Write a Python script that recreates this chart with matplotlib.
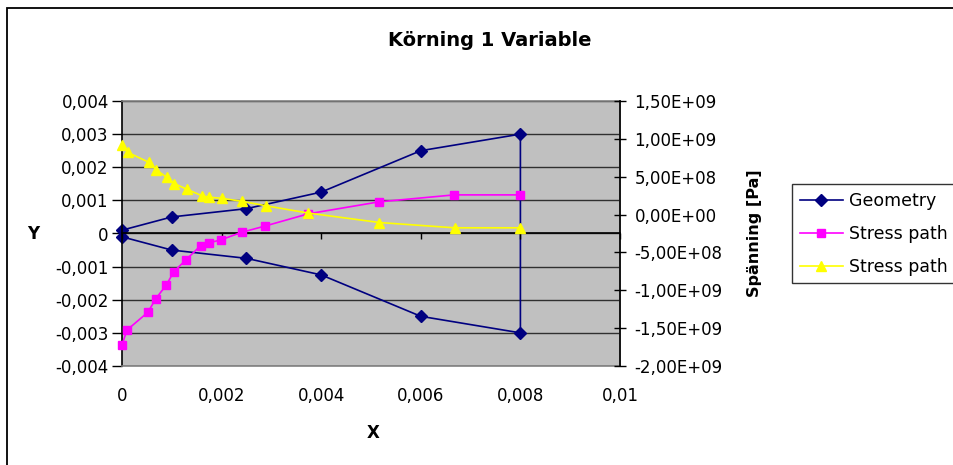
import matplotlib
matplotlib.use("Agg")
import matplotlib.pyplot as plt
from matplotlib.patches import Rectangle
from matplotlib.ticker import FuncFormatter, MultipleLocator, NullLocator

plt.rcParams['font.family'] = ['DejaVu Sans']

# geometry outline (left axis), upper edge then down the end and back along lower edge
geom_x = [0, 0.001, 0.0025, 0.004, 0.006, 0.008, 0.008, 0.006, 0.004, 0.0025, 0.001, 0]
geom_y = [0.0001, 0.0005, 0.00075, 0.00125, 0.0025, 0.003,
          -0.003, -0.0025, -0.00125, -0.00075, -0.0005, -0.0001]

# stress paths (right axis, Pa)
sp1_x = [0, 0.0001, 0.00052, 0.00068, 0.00089, 0.00104, 0.00128, 0.00158,
         0.00174, 0.00198, 0.0024, 0.00288, 0.00374, 0.00516, 0.00667, 0.008]
sp1_y = [-1.72e9, -1.525e9, -1.29e9, -1.11e9, -0.93e9, -0.755e9, -0.6e9, -0.41e9,
         -0.375e9, -0.335e9, -0.235e9, -0.15e9, 0.01e9, 0.168e9, 0.26e9, 0.26e9]

sp2_x = [0, 0.00012, 0.00054, 0.00069, 0.0009, 0.00105, 0.0013, 0.0016,
         0.00174, 0.002, 0.00241, 0.0029, 0.00374, 0.00517, 0.00668, 0.008]
sp2_y = [0.92e9, 0.82e9, 0.69e9, 0.59e9, 0.49e9, 0.41e9, 0.335e9, 0.25e9,
         0.23e9, 0.215e9, 0.175e9, 0.115e9, 0.02e9, -0.105e9, -0.175e9, -0.175e9]

series_names = ["Geometry", "Stress path", "Stress path"]
colors = ["#000080", "#FF00FF", "#FFFF00"]

XLIM = (0, 0.01)
YLIM = (-0.004, 0.004)
Y2LIM = (-2e9, 1.5e9)
FS = 12


def comma_plain(v, pos):
    if abs(v) < 1e-12:
        return "0"
    return f"{round(v, 6):g}".replace(".", ",")


def comma_sci(v, pos):
    if abs(v) < 1:
        v = 0.0
    return f"{v:.2E}".replace(".", ",")


W, H = 954, 465
fig = plt.figure(figsize=(W / 100, H / 100), dpi=100)
rect = [122 / W, (H - 366) / H, (620 - 122) / W, (366 - 101) / H]
ax = fig.add_axes(rect)
ax.set_facecolor("#C0C0C0")

ax.set_xlim(*XLIM)
ax.set_ylim(*YLIM)
ax.xaxis.set_major_locator(MultipleLocator(0.002))
ax.yaxis.set_major_locator(MultipleLocator(0.001))
ax.xaxis.set_major_formatter(FuncFormatter(comma_plain))
ax.yaxis.set_major_formatter(FuncFormatter(comma_plain))
ax.grid(axis="y", color="#303030", lw=1)
ax.set_axisbelow(True)

for side in ("top", "bottom", "right"):
    ax.spines[side].set_color("#808080")
    ax.spines[side].set_linewidth(1.2)
ax.spines["left"].set_color("black")
ax.spines["left"].set_linewidth(1.2)

ax.tick_params(axis="x", length=0, pad=15, labelsize=FS)
ax.tick_params(axis="y", direction="out", length=7, width=1, pad=2.5, labelsize=FS)

# horizontal axis line crossing at y = 0, labels stay at the bottom
axz = fig.add_axes(rect, sharex=ax)
axz.set_ylim(*YLIM)
axz.patch.set_visible(False)
for side in ("top", "left", "right"):
    axz.spines[side].set_visible(False)
axz.spines["bottom"].set_position(("data", 0))
axz.spines["bottom"].set_color("black")
axz.spines["bottom"].set_linewidth(1.2)
axz.yaxis.set_major_locator(NullLocator())
axz.tick_params(axis="x", direction="out", length=4, width=1, labelbottom=False)

h1, = ax.plot(geom_x, geom_y, color=colors[0], lw=1.2, marker="D", ms=6.5,
              label=series_names[0], clip_on=False)

ax2 = ax.twinx()
ax2.set_ylim(*Y2LIM)
ax2.yaxis.set_major_locator(MultipleLocator(5e8))
ax2.yaxis.set_major_formatter(FuncFormatter(comma_sci))
ax2.tick_params(axis="y", direction="inout", length=9, width=1, pad=6, labelsize=FS)
for side in ("top", "bottom", "left"):
    ax2.spines[side].set_visible(False)
ax2.spines["right"].set_color("black")
ax2.spines["right"].set_linewidth(1.2)

h2, = ax2.plot(sp1_x, sp1_y, color=colors[1], lw=1.2, marker="s", ms=5.5,
               label=series_names[1], clip_on=False)
h3, = ax2.plot(sp2_x, sp2_y, color=colors[2], lw=1.2, marker="^", ms=7.5,
               label=series_names[2], clip_on=False)

ax.set_xlabel("X", fontsize=FS, fontweight="bold")
ax.xaxis.set_label_coords((373 - 122) / 498, (366 - 433) / 265)
ax.xaxis.label.set_va("center")
ax.set_ylabel("Y", fontsize=FS, fontweight="bold", rotation=0, ha="center", va="center")
ax.yaxis.set_label_coords((33 - 122) / 498, 0.5)
ax2.set_ylabel("Spänning [Pa]", fontsize=11.5, fontweight="bold", rotation=90,
               ha="center", va="center")
ax2.yaxis.set_label_coords((755 - 122) / 498, 0.5)

fig.text(490 / W, 1 - 40 / H, "Körning 1 Variable", fontsize=14, fontweight="bold",
         ha="center", va="center")

leg = fig.legend([h1, h2, h3], series_names, loc="upper left",
                 bbox_to_anchor=(791.7 / W, 1 - 184.3 / H), fontsize=12.5,
                 frameon=True, fancybox=False, borderpad=0.45, labelspacing=0.85,
                 handlelength=2.5, handletextpad=0.35, borderaxespad=0)
leg.get_frame().set_edgecolor("black")
leg.get_frame().set_linewidth(1)

# chart area border
fig.patches.append(Rectangle((7 / W, -0.1), 1.2, 1 - 8 / H + 0.1, transform=fig.transFigure,
                             fill=False, edgecolor="black", lw=1.3))

fig.savefig("out.png", dpi=100)
